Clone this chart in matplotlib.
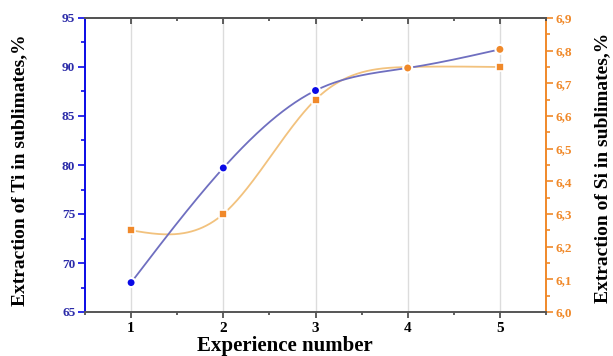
import numpy as np
import matplotlib
matplotlib.use('Agg')
import matplotlib.pyplot as plt
from matplotlib.ticker import MultipleLocator, FuncFormatter

# data
experience = [1, 2, 3, 4, 5]
ti_extraction = [68.0, 79.7, 87.6, 89.9, 91.8]
si_extraction = [6.25, 6.30, 6.65, 6.75, 6.75]

BLUE = '#0a0ae6'
BLUE_LINE = '#6f6fc0'
ORANGE = '#f0892a'
ORANGE_LINE = '#f2c27e'
ti_marker_colors = [BLUE, BLUE, BLUE, ORANGE, ORANGE]


def natural_spline(x, y, n=300):
    # plain natural cubic spline, like the "spline" connection in Origin
    x = np.asarray(x, float)
    y = np.asarray(y, float)
    k = len(x)
    h = np.diff(x)
    A = np.zeros((k, k))
    b = np.zeros(k)
    A[0, 0] = A[-1, -1] = 1
    for i in range(1, k - 1):
        A[i, i - 1] = h[i - 1]
        A[i, i] = 2 * (h[i - 1] + h[i])
        A[i, i + 1] = h[i]
        b[i] = 6 * ((y[i + 1] - y[i]) / h[i] - (y[i] - y[i - 1]) / h[i - 1])
    M = np.linalg.solve(A, b)
    xs = np.linspace(x[0], x[-1], n)
    idx = np.clip(np.searchsorted(x, xs) - 1, 0, k - 2)
    x0, x1 = x[idx], x[idx + 1]
    hh = x1 - x0
    ys = (M[idx] * (x1 - xs) ** 3 / (6 * hh) + M[idx + 1] * (xs - x0) ** 3 / (6 * hh)
          + (y[idx] / hh - M[idx] * hh / 6) * (x1 - xs)
          + (y[idx + 1] / hh - M[idx + 1] * hh / 6) * (xs - x0))
    return xs, ys


plt.rcParams['font.family'] = 'Liberation Serif'
plt.rcParams['font.weight'] = 'bold'

fig = plt.figure(figsize=(6.13, 3.56), dpi=100)
ax = fig.add_axes([85 / 613, 1 - 312 / 356, (546 - 85) / 613, (312 - 18) / 356])
ax2 = ax.twinx()

# vertical grid lines, under everything
for xv in experience:
    ax2.axvline(xv, color='#dcdcdc', lw=1, zorder=0)

# Si series (right axis)
xs, ys = natural_spline(experience, si_extraction)
ax2.plot(xs, ys, color=ORANGE_LINE, lw=1.3, zorder=2)
ax2.scatter(experience, si_extraction, marker='s', s=34, color=ORANGE,
            edgecolors='white', linewidths=1.2, zorder=3)

# Ti series (left axis), drawn on top
xs, ys = natural_spline(experience, ti_extraction)
ax.plot(xs, ys, color=BLUE_LINE, lw=1.3, zorder=2)
ax.scatter(experience, ti_extraction, marker='o', s=42, color=ti_marker_colors,
           edgecolors='white', linewidths=1.5, zorder=3)
ax.set_zorder(ax2.get_zorder() + 1)
ax.patch.set_visible(False)

ax.set_xlim(0.5, 5.5)
ax.set_ylim(65, 95)
ax2.set_ylim(6.0, 6.9)

ax.set_xticks(experience)
ax.xaxis.set_minor_locator(MultipleLocator(0.5))

ax.yaxis.set_major_locator(MultipleLocator(5))
ax.yaxis.set_minor_locator(MultipleLocator(2.5))
ax2.yaxis.set_major_locator(MultipleLocator(0.1))
ax2.yaxis.set_minor_locator(MultipleLocator(0.05))
ax2.yaxis.set_major_formatter(FuncFormatter(lambda v, p: f'{v:.1f}'.replace('.', ',')))

ax.tick_params(axis='x', which='major', length=4, width=1.2, color='#444444',
               labelsize=11, pad=3)
ax.tick_params(axis='x', which='minor', length=2.5, width=1.2, color='#444444')
ax.tick_params(axis='y', which='major', length=5, width=1.2, color=BLUE,
               labelcolor='#2b2ba8', labelsize=9.5, pad=2)
ax.tick_params(axis='y', which='minor', length=3, width=1.2, color=BLUE)
ax2.tick_params(axis='y', which='major', length=5, width=1.2, color=ORANGE,
                labelcolor=ORANGE, labelsize=9.5, pad=2)
ax2.tick_params(axis='y', which='minor', length=3, width=1.2, color=ORANGE)

# top ticks pointing inwards
top = ax.secondary_xaxis('top')
top.set_xticks(experience)
top.xaxis.set_minor_locator(MultipleLocator(0.5))
top.tick_params(which='major', direction='in', length=4, width=1.2, color='#444444',
                labeltop=False)
top.tick_params(which='minor', direction='in', length=2.5, width=1.2, color='#444444')
top.spines['top'].set_color('#555555')
top.spines['top'].set_linewidth(1.4)

for name, sp in ax.spines.items():
    sp.set_linewidth(1.4)
    sp.set_color('#555555')
ax.spines['left'].set_color(BLUE)
ax.spines['right'].set_visible(False)
for name, sp in ax2.spines.items():
    sp.set_visible(name == 'right')
ax2.spines['right'].set_color(ORANGE)
ax2.spines['right'].set_linewidth(1.4)

fig.text(20 / 613, 1 - 170 / 356, 'Extraction of Ti in sublimates,%', rotation=90,
         ha='center', va='center', fontsize=14, fontweight='bold')
fig.text(603 / 613, 1 - 168 / 356, 'Extraction of Si in sublimates,%', rotation=90,
         ha='center', va='center', fontsize=14, fontweight='bold')
fig.text(285 / 613, 1 - 346 / 356, 'Experience number', ha='center', va='center',
         fontsize=15, fontweight='bold')

fig.savefig('out.png', dpi=100)
